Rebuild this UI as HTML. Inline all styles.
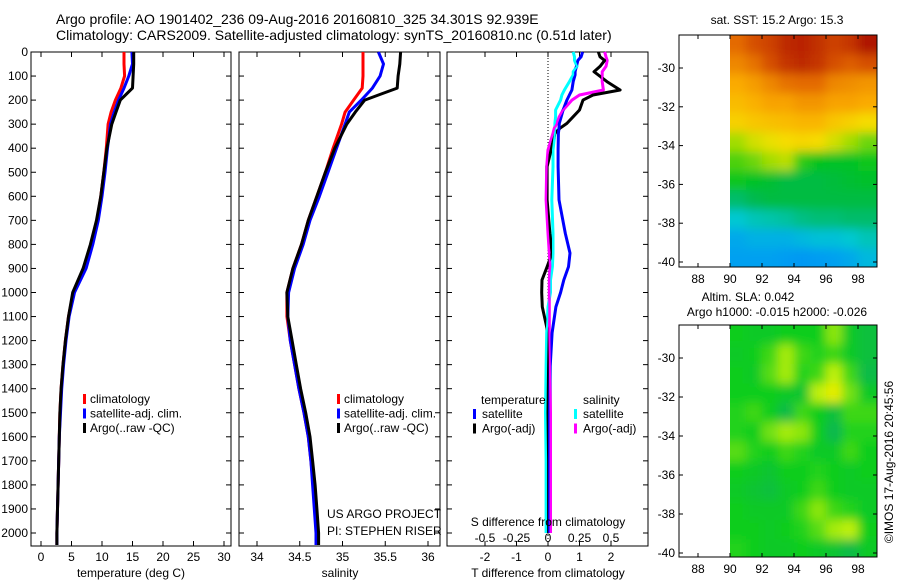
<!DOCTYPE html>
<html><head><meta charset="utf-8"><style>
html,body{margin:0;padding:0;background:#fff;}
svg{display:block;font-family:"Liberation Sans",sans-serif;}
</style></head><body>
<svg id="fig" width="900" height="580" viewBox="0 0 900 580">
<text x="56" y="24" font-size="14">Argo profile: AO 1901402_236 09-Aug-2016 20160810_325 34.301S 92.939E</text>
<text x="56" y="40" font-size="14">Climatology: CARS2009. Satellite-adjusted climatology: synTS_20160810.nc (0.51d later)</text>
<g id="g"></g>
</svg>
<script>
// ---- data ----
const depths=[0,50,100,150,200,250,300,400,500,600,700,800,900,1000,1100,1200,1300,1400,1500,1600,1700,1800,1900,2000,2050];
const tempClim=[13.6,13.6,13.7,13.1,12.2,11.5,11.0,10.7,10.3,9.8,9.2,8.2,7.0,5.3,4.5,4.0,3.6,3.3,3.1,3.0,2.9,2.8,2.7,2.6,2.6];
const tempSat=[14.9,15.0,14.4,13.6,12.7,12.0,11.4,10.9,10.5,10.0,9.4,8.5,7.4,5.5,4.6,4.1,3.7,3.4,3.2,3.0,2.9,2.8,2.7,2.6,2.6];
const tempArgo=[15.2,15.2,15.1,15.0,13.0,12.3,11.6,10.8,10.3,9.8,9.1,8.1,6.9,5.2,4.5,4.0,3.6,3.3,3.1,3.0,2.9,2.8,2.7,2.6,2.6];
const salClim=[35.24,35.24,35.24,35.23,35.13,35.03,34.99,34.89,34.80,34.70,34.60,34.52,34.42,34.35,34.35,34.39,34.44,34.49,34.55,34.60,34.63,34.66,34.68,34.70,34.70];
const salSat=[35.42,35.48,35.44,35.35,35.22,35.08,35.03,34.93,34.83,34.73,34.62,34.54,34.44,34.37,34.36,34.39,34.44,34.49,34.55,34.60,34.63,34.65,34.67,34.69,34.69];
const salArgo=[35.68,35.67,35.65,35.64,35.26,35.15,35.05,34.91,34.80,34.70,34.60,34.52,34.42,34.35,34.36,34.41,34.46,34.51,34.57,34.62,34.65,34.68,34.70,34.72,34.72];
const dDepths=[0,20,35,60,82,95,123,158,179,200,241,269,297,317,338,407,477,615,754,836,893,948,1000,1060,1168,1306,1500,1700,1900,2000];
const dTempArgo=[1.6,1.65,1.8,1.65,1.46,1.59,1.87,2.29,1.43,1.11,1.0,0.8,0.6,0.38,0.22,0.1,-0.03,-0.03,0.06,0.13,-0.03,-0.19,-0.2,-0.18,0.0,0.0,0.0,0.0,0.0,0.0];
const dTempSat=[1.1,1.05,0.95,0.9,0.86,0.86,0.8,0.76,0.68,0.6,0.48,0.42,0.36,0.35,0.33,0.32,0.32,0.35,0.55,0.7,0.65,0.5,0.4,0.25,0.13,0.07,0.05,0.05,0.05,0.05];
const dSalArgo=[0.45,0.46,0.47,0.46,0.43,0.43,0.43,0.44,0.25,0.19,0.12,0.09,0.07,0.05,0.04,0.0,-0.01,-0.015,0.0,0.01,0.015,0.01,0.01,0.01,0.01,0.015,0.02,0.02,0.02,0.02];
const dSalSat=[0.2,0.21,0.21,0.23,0.2,0.2,0.17,0.13,0.11,0.1,0.06,0.06,0.055,0.055,0.055,0.04,0.04,0.03,0.04,0.04,0.035,0.02,0.02,0.0,-0.01,-0.015,-0.02,-0.015,-0.015,-0.015];
const depthTicks=[0,100,200,300,400,500,600,700,800,900,1000,1100,1200,1300,1400,1500,1600,1700,1800,1900,2000];
const tempTicks=[0,5,10,15,20,25,30];
const salTicks=[34,34.5,35,35.5,36];
const salTickLabels=["34","34.5","35","35.5","36"];
const dTTicks=[-2,-1,0,1,2];
const dSTicks=[-0.5,-0.25,0,0.25,0.5];
const dSTickLabels=["-0.5","-0.25","0","0.25","0.5"];
const lonTicks=[88,90,92,94,96,98];
const latTicks=[-30,-32,-34,-36,-38,-40];
const sstLats=[-28.8,-29.8,-30.8,-31.8,-32.8,-33.8,-34.8,-35.8,-36.8,-37.8,-38.8,-39.8];
const sstLons=[90.5,91.5,92.5,93.5,94.5,95.5,96.5,97.5,98.5];
const sstGrid=[
[0.84,0.88,0.9,0.94,0.95,0.93,0.9,0.92,0.97],
[0.8,0.83,0.88,0.92,0.94,0.92,0.88,0.86,0.88],
[0.75,0.77,0.8,0.83,0.84,0.84,0.8,0.79,0.78],
[0.72,0.74,0.76,0.76,0.78,0.78,0.76,0.76,0.75],
[0.68,0.7,0.71,0.72,0.73,0.73,0.7,0.68,0.66],
[0.58,0.62,0.64,0.66,0.67,0.66,0.62,0.58,0.54],
[0.52,0.54,0.58,0.6,0.5,0.47,0.46,0.46,0.48],
[0.48,0.46,0.44,0.42,0.42,0.42,0.43,0.44,0.45],
[0.38,0.4,0.42,0.42,0.42,0.42,0.42,0.42,0.42],
[0.3,0.32,0.33,0.34,0.36,0.37,0.37,0.38,0.38],
[0.22,0.24,0.24,0.24,0.26,0.28,0.28,0.3,0.32],
[0.2,0.2,0.2,0.18,0.16,0.18,0.2,0.22,0.26]];
const slaGrid=[
[.5,.45,.45,.5,.5,.5,.75,.45,.35],
[.45,.5,.6,.8,.6,.55,.6,.45,.35],
[.5,.45,.65,.8,.55,.6,.85,.6,.3],
[.5,.5,.5,.45,.4,.85,.95,.7,.45],
[.55,.6,.5,.3,.6,.5,.35,.6,.6],
[.55,.5,.7,.8,.75,.5,.25,.55,.55],
[.65,.55,.5,.6,.55,.45,.45,.6,.5],
[.5,.45,.4,.5,.5,.55,.5,.45,.5],
[.45,.4,.35,.45,.5,.6,.5,.45,.45],
[.5,.45,.45,.45,.6,.75,.6,.55,.45],
[.5,.5,.45,.5,.55,.65,.8,.85,.5],
[.55,.5,.45,.45,.5,.45,.4,.3,.45]];

// ---- helpers ----
const NS="http://www.w3.org/2000/svg";
const G=document.getElementById('g');
function mk(tag,attrs,parent){const e=document.createElementNS(NS,tag);for(const k in attrs)e.setAttribute(k,attrs[k]);(parent||G).appendChild(e);return e;}
function txt(x,y,s,anchor,size){const t=mk('text',{x:x,y:y,'font-size':size||12,'text-anchor':anchor||'start'});t.textContent=s;return t;}
const PT=52,PB=546;
const yD=d=>52+d*0.2405;
const xT=t=>41+t*6.1;
const xS=s=>257+(s-34)*85.5;
const xDT=t=>548+t*31.5;
const xDS=s=>548+s*126;

function frame(x0,x1,name){
  const r=mk('rect',{x:x0,y:PT,width:x1-x0,height:PB-PT,fill:'none',stroke:'#000','stroke-width':1});
  
  
}
function yTicks(x0,x1,labels){
  depthTicks.forEach(d=>{const y=yD(d);
    mk('line',{x1:x0,y1:y,x2:x0+5,y2:y,stroke:'#000'});
    mk('line',{x1:x1,y1:y,x2:x1-5,y2:y,stroke:'#000'});
    if(labels){const t=txt(28,y+4,String(d),'end');
      
      }
  });
}
function xTicks(vals,labels,fx,name){
  vals.forEach((v,i)=>{const x=fx(v);
    mk('line',{x1:x,y1:PT,x2:x,y2:PT+5,stroke:'#000'});
    mk('line',{x1:x,y1:PB,x2:x,y2:PB-5,stroke:'#000'});
    const t=txt(x,561,labels[i],'middle');
    
    
  });
}
function line(ds,vs,fx,col,name,w){
  const pts=ds.map((d,i)=>fx(vs[i]).toFixed(1)+','+yD(d).toFixed(1)).join(' ');
  const p=mk('polyline',{points:pts,fill:'none',stroke:col,'stroke-width':w||3,'stroke-linejoin':'round'});
  
  
}
function legBar(x,y,col){mk('rect',{x:x,y:y-9,width:3,height:10,fill:col});}

// ---- panel 1: temperature ----
frame(31,231,'temperature-axes');
yTicks(31,231,true);
xTicks(tempTicks,tempTicks.map(String),xT,'temperature-tick-label');
line(depths,tempClim,xT,'#f00','temperature-climatology-line');
line(depths,tempSat,xT,'#00f','temperature-satellite-line');
line(depths,tempArgo,xT,'#000','temperature-argo-line');
let t=txt(131,577,'temperature (deg C)','middle');


[['#f00','climatology'],['#00f','satellite-adj. clim.'],['#000','Argo(..raw -QC)']].forEach((e,i)=>{
  legBar(83,403+i*14.5,e[0]);const l=txt(90,403+i*14.5,e[1]);
  
  
});

// ---- panel 2: salinity ----
frame(239,440,'salinity-axes');
yTicks(239,440,false);
xTicks(salTicks,salTickLabels,xS,'salinity-tick-label');
line(depths,salClim,xS,'#f00','salinity-climatology-line');
line(depths,salSat,xS,'#00f','salinity-satellite-line');
line(depths,salArgo,xS,'#000','salinity-argo-line');
t=txt(340,577,'salinity','middle');


[['#f00','climatology'],['#00f','satellite-adj. clim.'],['#000','Argo(..raw -QC)']].forEach((e,i)=>{
  legBar(337,403+i*14.5,e[0]);const l=txt(344,403+i*14.5,e[1]);
  
  
});
t=txt(327,518,'US ARGO PROJECT');


t=txt(327,535,'PI: STEPHEN RISER');



// ---- panel 3: differences ----
frame(447,648,'difference-axes');
yTicks(447,648,false);
mk('line',{x1:548,y1:PT,x2:548,y2:PB,stroke:'#000','stroke-dasharray':'1,2'});
xTicks(dTTicks,dTTicks.map(String),xDT,'t-difference-tick-label');
line(dDepths,dSalSat,xDS,'#0ff','salinity-satellite-difference-line');
line(dDepths,dSalArgo,xDS,'#f0f','salinity-argo-difference-line');
line(dDepths,dTempArgo,xDT,'#000','temperature-argo-difference-line');
line(dDepths,dTempSat,xDT,'#00f','temperature-satellite-difference-line');
line(dDepths,dSalSat,xDS,'#0ff','salinity-satellite-difference-line-top',2);
line(dDepths,dSalArgo,xDS,'#f0f','salinity-argo-difference-line-top',2);
t=txt(548,577,'T difference from climatology','middle');


t=txt(548,526,'S difference from climatology','middle');


dSTicks.forEach((v,i)=>{const l=txt(xDS(v),542,dSTickLabels[i],'middle');
  
  });
t=txt(481,404,'temperature');


t=txt(583,404,'salinity');


[['#00f','satellite',473],['#000','Argo(-adj)',473],['#0ff','satellite',574],['#f0f','Argo(-adj)',574]].forEach((e,i)=>{
  const y=418+(i%2)*14.5;legBar(e[2],y,e[0]);const l=txt(e[2]+9,y,e[1]);
  
  
});

// ---- maps ----
function ramp(stops,v){
  for(let i=1;i<stops.length;i++){if(v<=stops[i][0]){const a=stops[i-1],b=stops[i],f=Math.max(0,(v-a[0])/(b[0]-a[0]));
    return 'rgb('+a[1].map((c,k)=>Math.round(c+(b[1][k]-c)*f)).join(',')+')';}}
  const l=stops[stops.length-1][1];return 'rgb('+l.join(',')+')';
}
const sstStops=[[0,[0,120,255]],[0.2,[0,160,240]],[0.3,[0,200,210]],[0.4,[0,185,80]],[0.47,[0,195,30]],[0.56,[140,220,0]],[0.65,[245,225,0]],[0.75,[250,170,0]],[0.85,[225,100,0]],[0.95,[185,35,0]],[1,[160,0,0]]];
const slaStops=[[0,[20,160,130]],[0.5,[10,205,30]],[0.85,[190,240,10]],[1,[250,235,0]]];
function map(top,bot,lat30,lat40,grid,stops,name,blurId){
  const L=679,R=877;
  const xL=lon=>730+(lon-90)*16;
  const yL=lat=>lat30+(lat-(-30))*(lat40-lat30)/(-10);
  const defs=mk('defs',{});
  const f=mk('filter',{id:blurId,filterUnits:'userSpaceOnUse',x:700,y:top-40,width:220,height:bot-top+80},defs);
  mk('feGaussianBlur',{stdDeviation:5},f);
  const cp=mk('clipPath',{id:blurId+'c'},defs);
  mk('rect',{x:730,y:top,width:R-730,height:bot-top},cp);
  const outer=mk('g',{'clip-path':`url(#${blurId}c)`});
  
  
  const cg=mk('g',{filter:`url(#${blurId})`},outer);
  grid.forEach((row,i)=>row.forEach((v,j)=>{
    const lat=sstLats[i],lon=sstLons[j];
    const x0=xL(lon-0.5)-(j==0?30:0),x1=xL(lon+0.5)+(j==row.length-1?30:0);
    const y0=yL(lat+0.5)-(i==0?30:0),y1=yL(lat-0.5)+(i==grid.length-1?30:0);
    const c=mk('rect',{x:x0.toFixed(1),y:y0.toFixed(1),width:(x1-x0+0.5).toFixed(1),height:(y1-y0+0.5).toFixed(1),fill:ramp(stops,v)},cg);
    
    
  }));
  const fr=mk('rect',{x:L,y:top,width:R-L,height:bot-top,fill:'none',stroke:'#000'});
  
  
  lonTicks.forEach(v=>{const x=xL(v);
    mk('line',{x1:x,y1:bot,x2:x,y2:bot-4,stroke:'#000'});
    mk('line',{x1:x,y1:top,x2:x,y2:top+4,stroke:'#000'});
    const l=txt(x,bot+16,String(v),'middle');
    
    });
  latTicks.forEach(v=>{const y=yL(v);
    mk('line',{x1:L,y1:y,x2:L+4,y2:y,stroke:'#000'});
    mk('line',{x1:R,y1:y,x2:R-4,y2:y,stroke:'#000'});
    const l=txt(675,y+4,String(v),'end');
    
    });
}
map(35,267,68,262,sstGrid,sstStops,'sst-map','b1');
map(325,557,358,553,slaGrid,slaStops,'sla-map','b2');
t=txt(777,24,'sat. SST: 15.2 Argo: 15.3','middle');


t=txt(748,301,'Altim. SLA: 0.042','middle');


t=txt(777,316,'Argo h1000: -0.015 h2000: -0.026','middle');


t=txt(0,0,'©IMOS 17-Aug-2016 20:45:56','middle');
t.setAttribute('transform','translate(893,462) rotate(-90)');


</script>
</body></html>
